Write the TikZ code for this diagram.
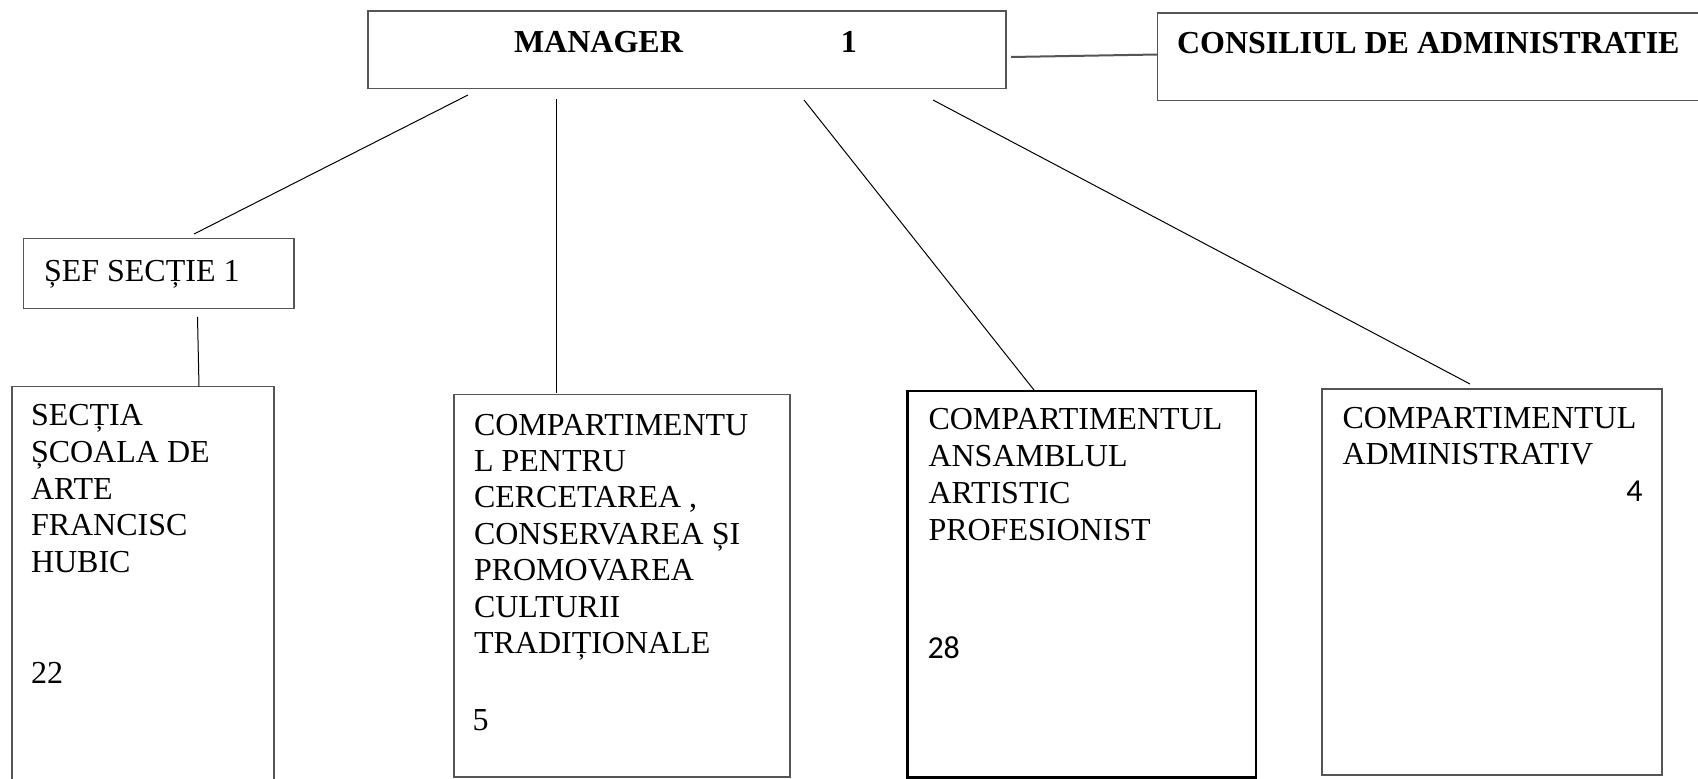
\documentclass[tikz,border=0pt]{standalone}
\usepackage{fontspec}
\setmainfont{Liberation Serif}
\newfontfamily\calib{Carlito}
\definecolor{boxgrey}{RGB}{85,85,85}
\tikzset{
  box/.style={draw=boxgrey, line width=1.6pt, inner sep=0pt, outer sep=0pt, anchor=north west, rectangle},
  thickbox/.style={box, draw=black, line width=2.6pt},
  conn/.style={draw=black, line width=1pt},
  txt/.style={inner sep=0pt, outer sep=0pt, anchor=base west, font=\fontsize{32}{36.7}\selectfont},
  btxt/.style={txt, font=\fontsize{32}{36.7}\selectfont\bfseries},
  ctxt/.style={txt, font=\fontsize{32}{36.7}\selectfont\calib},
}
\begin{document}
\begin{tikzpicture}[x=1pt,y=-1pt]
\useasboundingbox (0,0) rectangle (1698,779);
\fill[white] (0,0) rectangle (1698,779);
\clip (0,0) rectangle (1698,779);

% boxes
\node[box, minimum width=638pt, minimum height=77.5pt] (manager) at (368,11) {};
\node[box, minimum width=552.5pt, minimum height=87.5pt] (consiliul) at (1157.5,13) {};
\node[box, minimum width=270.5pt, minimum height=70pt] (sef) at (23.5,238.5) {};
\node[box, minimum width=262pt, minimum height=420pt] (sectia) at (12,386.5) {};
\node[box, minimum width=336pt, minimum height=382.5pt] (pentru) at (454,394.5) {};
\node[thickbox, minimum width=348.5pt, minimum height=386.5pt] (ansamblu) at (907.5,391) {};
\node[box, minimum width=340pt, minimum height=386pt] (admin) at (1322,389) {};

% texts
\node[btxt] (managerT) at (514,52.5) {MANAGER\hspace{158pt}1};
\node[btxt] (consiliulT) at (1177,53) {CONSILIUL DE ADMINISTRATIE};
\node[txt] (sefT) at (44,281) {ȘEF SECȚIE 1};
\node[txt] (sectiaT) at (31,425.7) {\vtop{\baselineskip=36.75pt\hbox{SECȚIA}\hbox{ȘCOALA DE}\hbox{ARTE}\hbox{FRANCISC}\hbox{HUBIC}}};
\node[txt] (sectiaN) at (31,683) {22};
\node[txt] (pentruT) at (474,435) {\vtop{\baselineskip=36.4pt\hbox{COMPARTIMENTU}\hbox{L PENTRU}\hbox{CERCETAREA ,}\hbox{CONSERVAREA ȘI}\hbox{PROMOVAREA}\hbox{CULTURII}\hbox{TRADIȚIONALE}}};
\node[txt] (pentruN) at (472.5,730) {5};
\node[txt] (ansamblulT) at (928.5,429.5) {\vtop{\baselineskip=36.9pt\hbox{COMPARTIMENTUL}\hbox{ANSAMBLUL}\hbox{ARTISTIC}\hbox{PROFESIONIST}}};
\node[ctxt] (ansamblulN) at (927.5,658) {28};
\node[txt] (adminT) at (1342.5,428) {\vtop{\baselineskip=36.8pt\hbox{COMPARTIMENTUL}\hbox{ADMINISTRATIV}}};
\node[ctxt, anchor=base east] (adminN) at (1642.5,501.7) {4};

% connectors
\draw[conn] ([shift={(100,6.5)}]manager.south west) -- ([shift={(170.5,-4.5)}]sef.north west);
\draw[conn] ([shift={(188,10.5)}]manager.south west) -- ([shift={(102,-1.5)}]pentru.north west);
\draw[conn] ([shift={(436,11.5)}]manager.south west) -- ([shift={(126.5,-1)}]ansamblu.north west);
\draw[conn] ([shift={(565,11.5)}]manager.south west) -- ([shift={(148,-5)}]admin.north west);
\draw[conn] ([shift={(174,8.5)}]sef.south west) -- ([shift={(187,0)}]sectia.north west);
\draw[conn, draw=boxgrey, line width=2pt] ([shift={(5,46)}]manager.north east) -- ([shift={(0,41.5)}]consiliul.north west);
\end{tikzpicture}
\end{document}
